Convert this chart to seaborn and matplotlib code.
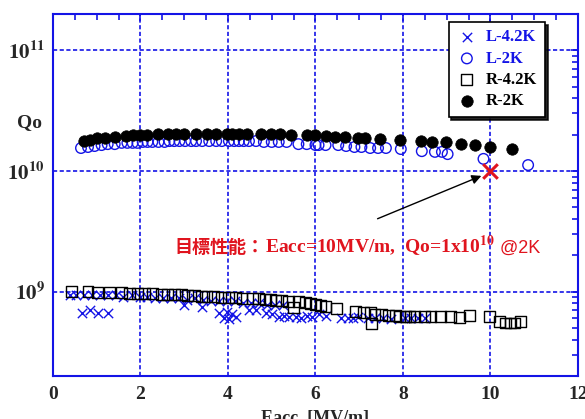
import numpy as np
import matplotlib
matplotlib.use("Agg")
import matplotlib.pyplot as plt
import seaborn as sns
from matplotlib.ticker import MultipleLocator, LogLocator, FixedLocator, FuncFormatter, NullFormatter
from matplotlib.offsetbox import TextArea, HPacker, AnnotationBbox

# --- data (Eacc in MV/m, Qo) ---
r2k_x = [0.70, 0.84, 1.00, 1.18, 1.41, 1.68, 1.82, 1.98, 2.14, 2.41, 2.64, 2.82, 3.00, 3.27, 3.52,
         3.73, 3.98, 4.09, 4.25, 4.43, 4.75, 4.98, 5.18, 5.45, 5.80, 6.00, 6.23, 6.45, 6.68, 6.98,
         7.14, 7.48, 7.93, 8.41, 8.66, 8.98, 9.32, 9.64, 9.98, 10.50]
r2k_q = [1.77, 1.82, 1.86, 1.89, 1.92, 1.95, 1.97, 1.97, 1.99, 2.02, 2.02, 2.02, 2.02, 2.03, 2.03,
         2.03, 2.04, 2.04, 2.03, 2.02, 2.04, 2.04, 2.01, 1.99, 1.99, 1.99, 1.95, 1.91, 1.91, 1.87,
         1.87, 1.84, 1.80, 1.76, 1.74, 1.74, 1.67, 1.64, 1.58, 1.52]  # x1e10

l2k_x = [0.64, 0.80, 0.95, 1.11, 1.25, 1.41, 1.57, 1.70, 1.82, 1.93, 2.05, 2.16, 2.27, 2.41, 2.55,
         2.66, 2.77, 2.89, 3.02, 3.16, 3.27, 3.41, 3.57, 3.73, 3.86, 4.02, 4.14, 4.25, 4.36, 4.48,
         4.64, 4.82, 5.00, 5.16, 5.34, 5.61, 5.80, 6.00, 6.07, 6.23, 6.52, 6.70, 6.89, 7.05, 7.25,
         7.43, 7.61, 7.95, 8.43, 8.73, 8.89, 9.02, 9.84, 10.86]
l2k_q = [1.55, 1.58, 1.61, 1.64, 1.67, 1.67, 1.71, 1.71, 1.71, 1.71, 1.74, 1.74, 1.74, 1.74, 1.74,
         1.77, 1.77, 1.77, 1.77, 1.77, 1.77, 1.77, 1.77, 1.77, 1.77, 1.77, 1.77, 1.77, 1.77, 1.77,
         1.77, 1.74, 1.74, 1.74, 1.74, 1.67, 1.67, 1.64, 1.64, 1.64, 1.64, 1.61, 1.58, 1.58, 1.55,
         1.55, 1.55, 1.52, 1.46, 1.44, 1.44, 1.38, 1.26, 1.12]  # x1e10

r42_x = [0.43, 0.80, 1.02, 1.30, 1.57, 1.75, 1.93, 2.09, 2.27, 2.48, 2.61, 2.77, 2.93, 3.07, 3.23,
         3.39, 3.52, 3.68, 3.84, 4.02, 4.18, 4.32, 4.55, 4.70, 4.86, 4.98, 5.09, 5.23, 5.39, 5.50,
         5.61, 5.77, 5.89, 6.00, 6.11, 6.23, 6.48, 6.91, 7.09, 7.25, 7.27, 7.36, 7.50, 7.66, 7.82,
         7.93, 8.05, 8.16, 8.27, 8.50, 8.64, 8.86, 9.09, 9.30, 9.52, 9.98, 10.20, 10.34, 10.45,
         10.55, 10.68]
r42_q = [1.00, 1.00, 0.98, 0.98, 0.98, 0.96, 0.96, 0.96, 0.96, 0.94, 0.94, 0.94, 0.94, 0.93, 0.93,
         0.91, 0.91, 0.91, 0.89, 0.89, 0.89, 0.88, 0.88, 0.88, 0.86, 0.86, 0.84, 0.84, 0.83, 0.74,
         0.83, 0.81, 0.80, 0.78, 0.77, 0.75, 0.72, 0.68, 0.67, 0.67, 0.54, 0.65, 0.65, 0.63, 0.63,
         0.62, 0.62, 0.62, 0.62, 0.62, 0.62, 0.62, 0.62, 0.61, 0.63, 0.62, 0.57, 0.55, 0.55, 0.55,
         0.57]  # x1e9

l42_x = [0.39, 0.52, 0.70, 0.89, 1.07, 1.25, 1.43, 1.61, 1.80, 1.98, 2.16, 2.34, 2.52, 2.70, 2.89,
         3.07, 3.25, 3.43, 3.61, 3.80, 3.98, 4.16, 4.34, 4.52, 4.70, 4.89, 5.07, 5.25,
         0.66, 0.84, 1.02, 1.25, 3.00, 3.41, 3.80, 3.91, 3.98, 4.02, 4.09, 4.18, 4.48, 4.64, 4.86,
         5.00, 5.16, 5.27, 5.39, 5.55, 5.68, 5.80, 5.91, 6.07, 6.23, 6.59, 6.75, 6.86, 6.98, 7.20,
         7.36, 7.55, 7.73, 8.05, 8.18, 8.34, 8.50]
l42_q = [0.93, 0.94, 0.93, 0.94, 0.93, 0.93, 0.93, 0.91, 0.93, 0.91, 0.91, 0.89, 0.89, 0.89, 0.88,
         0.86, 0.88, 0.86, 0.84, 0.84, 0.83, 0.83, 0.81, 0.81, 0.80, 0.78, 0.77, 0.77,
         0.67, 0.70, 0.67, 0.67, 0.78, 0.74, 0.67, 0.61, 0.68, 0.59, 0.65, 0.62, 0.71, 0.70, 0.67,
         0.65, 0.62, 0.63, 0.62, 0.62, 0.61, 0.63, 0.62, 0.65, 0.63, 0.61, 0.61, 0.61, 0.62, 0.61,
         0.60, 0.61, 0.59, 0.61, 0.60, 0.61, 0.61]  # x1e9

target_x = [10.0]
target_q = [1e10]

BLUE = "#1414e6"
RED = "#e0141e"

sns.set_style("white")
plt.rcParams["font.family"] = ["Liberation Serif", "Noto Sans CJK JP", "DejaVu Sans"]
plt.rcParams["mathtext.fontset"] = "stix"

fig = plt.figure(figsize=(5.85, 4.19), dpi=100)
ax = fig.add_axes([0.0906, 0.1026, 0.8974, 0.864])

sns.scatterplot(x=l42_x, y=np.array(l42_q) * 1e9, marker="x", color=BLUE, s=45,
                linewidth=1.0, ax=ax, label="L-4.2K", zorder=3)
sns.scatterplot(x=l2k_x, y=np.array(l2k_q) * 1e10, marker="o", facecolor="none",
                edgecolor=BLUE, s=58, linewidth=1.0, ax=ax, label="L-2K", zorder=3)
sns.scatterplot(x=r42_x, y=np.array(r42_q) * 1e9, marker="s", facecolor="none",
                edgecolor="black", s=62, linewidth=1.0, ax=ax, label="R-4.2K", zorder=4)
sns.scatterplot(x=r2k_x, y=np.array(r2k_q) * 1e10, marker="o", color="black",
                edgecolor="black", s=68, linewidth=0.5, ax=ax, label="R-2K", zorder=4)
sns.scatterplot(x=target_x, y=target_q, marker="x", color=RED, s=110, linewidth=2.2,
                ax=ax, zorder=6, legend=False)

ax.set_yscale("log")
ax.set_xlim(0, 12)
ax.set_ylim(2e8, 2e11)

ax.xaxis.set_major_locator(MultipleLocator(2))
ax.xaxis.set_minor_locator(MultipleLocator(0.5))
ax.yaxis.set_major_locator(FixedLocator([1e9, 1e10, 1e11]))
ax.yaxis.set_minor_locator(LogLocator(base=10, subs=np.arange(2, 10)))
ax.yaxis.set_minor_formatter(NullFormatter())
ax.yaxis.set_major_formatter(FuncFormatter(lambda v, p: r"$\mathbf{10^{%d}}$" % round(np.log10(v))))
ax.xaxis.set_major_formatter(FuncFormatter(lambda v, p: "%d" % v))

ax.tick_params(which="both", direction="in", color=BLUE, top=True, right=True, width=1.2)
ax.tick_params(which="major", length=5, labelsize=14, pad=7)
ax.tick_params(axis="y", which="major", labelsize=15, pad=6)
ax.tick_params(which="minor", length=4)
for lab in ax.get_xticklabels():
    lab.set_fontweight("bold")
for sp in ax.spines.values():
    sp.set_color(BLUE)
    sp.set_linewidth(1.5)

ax.grid(True, which="major", color=BLUE, linestyle=(0, (2.5, 1.5)), linewidth=1.2)
ax.set_axisbelow(True)

ax.set_xlabel("Eacc  [MV/m]", fontsize=13, fontweight="bold")
ax.xaxis.set_label_coords(0.5, -0.095)
ax.set_ylabel("Qo", fontsize=14, fontweight="bold", rotation=0, va="center", ha="center")
ax.yaxis.set_label_coords(-0.045, 0.70)

leg = ax.legend(loc="upper right", bbox_to_anchor=(0.937, 0.978), borderaxespad=0,
                frameon=True, fancybox=False,
                shadow={"color": "black", "alpha": 0.85}, edgecolor="black", framealpha=1,
                prop={"size": 12, "weight": "bold"}, handletextpad=0.5, borderpad=0.45,
                labelspacing=0.32, handlelength=1.3,
                labelcolor=[BLUE, BLUE, "black", "black"])
leg.get_frame().set_linewidth(1.2)

# arrow pointing at the target spec
ax.annotate("", xy=(9.85, 9.3e9), xytext=(7.36, 3.94e9),
            arrowprops=dict(arrowstyle="-|>", color="black", lw=1.0, mutation_scale=14))

# target text: CJK part + serif part + sans part, aligned on baseline
part1 = TextArea("目標性能：", textprops=dict(color=RED, fontsize=13, fontweight="bold",
                                          family=["Noto Sans CJK JP"]))
part2 = TextArea("Eacc=10MV/m,  Qo=1x10$^{\\mathbf{10}}$", textprops=dict(
    color=RED, fontsize=14, fontweight="bold", family=["Liberation Serif"]))
part3 = TextArea(" @2K", textprops=dict(color=RED, fontsize=13, family=["Liberation Sans"]))
row = HPacker(children=[part1, part2, part3], align="baseline", pad=0, sep=0)
ab = AnnotationBbox(row, (0.232, 0.359), xycoords="axes fraction", box_alignment=(0, 0.5),
                    frameon=False, pad=0)
ax.add_artist(ab)

fig.savefig("out.png", dpi=100)
